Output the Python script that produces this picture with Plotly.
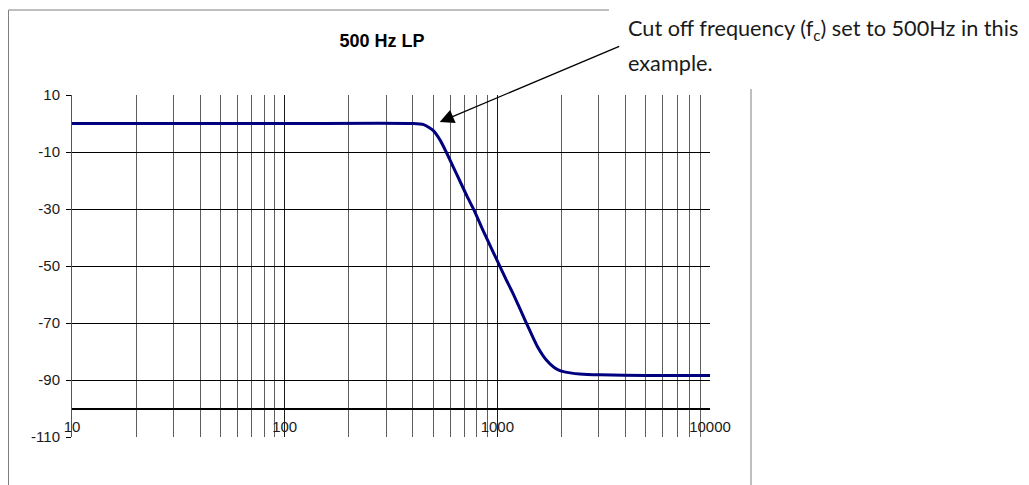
import plotly.graph_objects as go

# ---- data ----
freq_hz = [10, 100, 400, 450, 500, 540, 575, 620, 665, 720, 782, 850, 903, 1000,
           1100, 1183, 1300, 1419, 1550, 1700, 1850, 2000, 2200, 2440, 3030, 5000, 10000]
gain_db = [0, 0, 0, -0.4, -2.5, -6.0, -10, -15.2, -20.0, -25.5, -30.8, -37.0, -41.2, -48.2,
           -54.8, -59.5, -66.3, -72.5, -78.5, -83.0, -85.6, -86.9, -87.5, -87.9, -88.2, -88.4, -88.4]

x_tick_vals = [10, 100, 1000, 10000]
x_tick_text = ["10", "100", "1000", "10000"]
y_tick_vals = [10, -10, -30, -50, -70, -90, -110]
y_tick_text = ["10", "-10", "-30", "-50", "-70", "-90", "-110"]

title_text = "<b>500 Hz LP</b>"
note_line1 = "Cut off frequency (f<sub>c</sub>) set to 500Hz in this"
note_line2 = "example."

# ---- layout geometry (page pixels; the page body adds an 8px offset) ----
OFF = 8
W, H = 1029 - OFF, 485 - OFF
PL, PR, PT, PB = 72, 710, 95, 437          # plot area in page pixels
L, R, T, B = PL - OFF, W - (PR - OFF), PT - OFF, H - (PB - OFF)
pw, ph = W - L - R, H - T - B


def px(xp):
    return (xp - OFF - L) / pw


def py(yp):
    return (H - B - (yp - OFF)) / ph


fig = go.Figure()
fig.add_trace(go.Scatter(
    x=freq_hz, y=gain_db, mode="lines",
    line=dict(color="#00007f", width=3, shape="spline", smoothing=0.6),
    hoverinfo="skip", showlegend=False,
))

axis_font = dict(family="Liberation Sans, Arial", size=15, color="#1a1a1a")

fig.update_layout(
    width=W, height=H,
    margin=dict(l=L, r=R, t=T, b=B, autoexpand=False),
    paper_bgcolor="white", plot_bgcolor="white",
    showlegend=False,
    title=dict(text=title_text, x=(382 - OFF) / W, xanchor="center", xref="container",
               y=1 - (41 - OFF) / H, yanchor="middle", yref="container",
               font=dict(family="Liberation Sans, Arial", size=18, color="black")),
    xaxis=dict(
        type="log", range=[1, 4],
        tickmode="array", tickvals=x_tick_vals, ticktext=x_tick_text,
        showgrid=True, gridcolor="#1a1a1a", gridwidth=1,
        minor=dict(dtick="D1", showgrid=True, gridcolor="#5e5e5e", gridwidth=1, ticks=""),
        ticks="", showline=True, linecolor="black", linewidth=2,
        anchor="free", position=10 / 120,
        ticklabelstandoff=4,
        tickfont=axis_font,
        zeroline=False,
    ),
    yaxis=dict(
        range=[-110, 10],
        tickmode="array", tickvals=y_tick_vals, ticktext=y_tick_text,
        showgrid=True, gridcolor="black", gridwidth=1,
        ticks="outside", ticklen=5, tickcolor="black",
        showline=True, linecolor="#555555", linewidth=1,
        ticklabelstandoff=3,
        tickfont=axis_font,
        zeroline=False,
    ),
)

# outer chart frame (partly hidden behind the note at top-right)
frame = dict(color="#7f7f7f", width=1)
fig.add_shape(type="line", xref="paper", yref="paper",
              x0=px(609), x1=px(8.5), y0=py(10), y1=py(10), line=frame)
fig.add_shape(type="line", xref="paper", yref="paper",
              x0=px(8.5), x1=px(8.5), y0=py(10), y1=py(500), line=frame)
fig.add_shape(type="line", xref="paper", yref="paper",
              x0=px(751), x1=px(751), y0=py(89), y1=py(500), line=frame)

note_font = dict(family="Lato, Open Sans, sans-serif", size=21.7, color="#1a1a1a")
fig.add_annotation(text=note_line1, xref="paper", yref="paper",
                   x=px(626), y=py(30), xanchor="left", yanchor="middle",
                   showarrow=False, font=note_font)
fig.add_annotation(text=note_line2, xref="paper", yref="paper",
                   x=px(626), y=py(63), xanchor="left", yanchor="middle",
                   showarrow=False, font=note_font)

# arrow pointing at the cut-off knee (tip in data coords; log axis uses log10 units)
fig.add_annotation(text=" ", xref="x", yref="y",
                   x=2.729, y=0.5, ax=180, ay=-76, axref="pixel", ayref="pixel",
                   showarrow=True, arrowhead=2, arrowsize=2.2, arrowwidth=1.3,
                   arrowcolor="black", standoff=0, borderpad=0, font=dict(size=1))

fig.write_html("out.html")
